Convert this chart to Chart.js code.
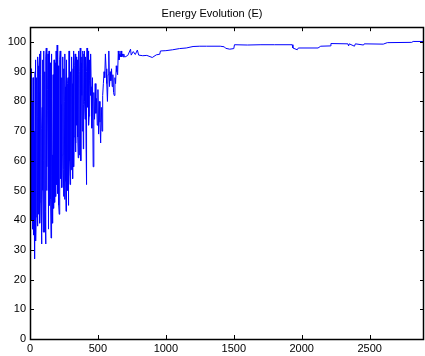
<!DOCTYPE html>
<html>
<head>
<meta charset="utf-8">
<script src="https://cdn.jsdelivr.net/npm/chart.js@4/dist/chart.umd.min.js"></script>
<style>
  html, body { margin: 0; padding: 0; background: #fff; }
  #wrap { width: 425px; height: 356px; }
</style>
</head>
<body>
<div id="wrap"><canvas id="energyChart" width="425" height="356"></canvas></div>
<script>
const chartTitle = "Energy Evolution (E)";

// noisy start: iterations 0..700, every 5
const earlyIters = [];
for (let i = 0; i <= 700; i += 5) earlyIters.push(i);
const earlyEnergy = [
  62, 85, 44, 80, 37, 83, 52, 27, 94, 41,
  88, 38, 92, 55, 96, 46, 89, 32, 78, 50,
  97, 36, 90, 32, 98, 58, 84, 37, 97, 45,
  92, 34, 81, 62, 89, 44, 55, 93, 48, 86,
  99, 49, 87, 42, 94, 60, 79, 51, 91, 57,
  91, 47, 85, 43, 94, 64, 88, 55, 93, 52,
  90, 62, 86, 54, 97, 68, 92, 63, 95, 72,
  93, 61, 89, 76, 98, 60, 95, 70, 91, 79,
  97, 74, 88, 52, 98, 80, 92, 75, 87, 82,
  85, 71, 88, 58, 83, 74, 86, 76, 81, 72,
  84, 69, 80, 73, 66, 78, 70, 82, 86, 90,
  88, 96, 91, 86, 80, 89, 97, 85, 90, 87,
  91, 85, 89, 83, 82, 88, 86, 92, 90, 89,
  97, 94, 96, 95, 97, 95, 96, 95, 96, 95,
  95
];

// in-between iterations 2.5..447.5 (the dense band)
const midIters = [];
for (let i = 2.5; i < 450; i += 5) midIters.push(i);
const midEnergy = [
  48, 91, 40, 76, 88, 35, 70, 90, 33, 58,
  75, 95, 42, 83, 39, 97, 47, 71, 94, 36,
  60, 88, 43, 95, 50, 77, 96, 40, 68, 93,
  47, 96, 55, 39, 78, 94, 46, 70, 97, 52,
  63, 92, 45, 84, 97, 54, 88, 62, 95, 48,
  80, 96, 53, 90, 50, 86, 45, 97, 60, 89,
  57, 95, 70, 91, 58, 86, 96, 66, 84, 94,
  68, 97, 62, 90, 73, 93, 82, 97, 64, 96,
  80, 95, 66, 90, 78, 97, 72, 94, 85, 96
];

// settled part
const lateIters = [
  720, 740, 745, 760, 775, 790, 800, 830, 860, 900, 930, 955, 960,
  1000, 1050, 1100, 1150, 1200, 1250, 1300, 1400, 1430, 1440, 1470, 1500, 1505,
  1600, 1700, 1800, 1930, 1935, 1967, 1975, 2120, 2140, 2210, 2215,
  2340, 2345, 2350, 2388, 2395, 2455, 2460, 2600, 2630, 2810, 2820, 2900
];
const lateEnergy = [
  95.5, 97.6, 95.6, 96.8, 95.8, 97.3, 95.6, 95.4, 95.5, 94.8, 95.7, 95.9, 97.0,
  97.1, 97.4, 97.8, 98.0, 98.5, 98.6, 98.6, 98.6, 98.4, 97.9, 97.6, 97.8, 99.1,
  99.0, 99.1, 99.1, 99.1, 98.0, 97.4, 98.0, 98.0, 98.6, 98.7, 99.5,
  99.4, 98.7, 99.4, 98.6, 99.4, 99.0, 99.4, 99.3, 99.8, 99.9, 100.2, 100.2
];

const xTicks = [0, 500, 1000, 1500, 2000, 2500];
const yTicks = [0, 10, 20, 30, 40, 50, 60, 70, 80, 90, 100];

const points = earlyIters.map((x, i) => ({x: x, y: earlyEnergy[i]}))
  .concat(midIters.map((x, i) => ({x: x, y: midEnergy[i]})))
  .sort((a, b) => a.x - b.x)
  .concat(lateIters.map((x, i) => ({x: x, y: lateEnergy[i]})));

// box and inward ticks, matlab style
const frame = {
  id: 'frame',
  afterDraw(chart) {
    const {ctx, chartArea: a, scales} = chart;
    ctx.save();
    ctx.strokeStyle = '#000';
    ctx.lineWidth = 1;
    ctx.beginPath();
    xTicks.forEach(v => {
      const px = Math.round(scales.x.getPixelForValue(v)) + 0.5;
      ctx.moveTo(px, a.bottom); ctx.lineTo(px, a.bottom - 4);
      ctx.moveTo(px, a.top); ctx.lineTo(px, a.top + 4);
    });
    yTicks.forEach(v => {
      const py = Math.round(scales.y.getPixelForValue(v)) + 0.5;
      ctx.moveTo(a.left, py); ctx.lineTo(a.left + 4, py);
      ctx.moveTo(a.right, py); ctx.lineTo(a.right - 4, py);
    });
    ctx.stroke();
    ctx.lineWidth = 1.5;
    ctx.strokeRect(Math.round(a.left) + 0.5, Math.round(a.top) + 0.5,
      Math.round(a.right - a.left) - 1, Math.round(a.bottom - a.top));
    ctx.restore();
  }
};

const ctx = document.getElementById('energyChart').getContext('2d');
new Chart(ctx, {
  type: 'line',
  data: {
    datasets: [{
      data: points,
      borderColor: '#0000ff',
      borderWidth: 1,
      pointRadius: 0,
      fill: false,
      tension: 0
    }]
  },
  options: {
    responsive: false,
    animation: false,
    layout: { padding: { left: 0, right: 1, top: 0, bottom: 0 } },
    plugins: {
      legend: { display: false },
      tooltip: { enabled: false },
      title: {
        display: true,
        text: chartTitle,
        color: '#000',
        font: { family: 'Liberation Sans, Arial, sans-serif', size: 11, weight: 'normal' },
        padding: { top: 7, bottom: 7 }
      }
    },
    scales: {
      x: {
        type: 'linear',
        min: 0, max: 2900,
        grid: { display: false, drawTicks: false },
        border: { display: false },
        afterBuildTicks: s => { s.ticks = xTicks.map(v => ({value: v})); },
        afterFit: s => { s.height = 17; },
        ticks: {
          color: '#000', padding: 3, maxRotation: 0, autoSkip: false,
          callback: v => String(v),
          font: { family: 'Liberation Sans, Arial, sans-serif', size: 11 }
        }
      },
      y: {
        min: 0, max: 105,
        grid: { display: false, drawTicks: false },
        border: { display: false },
        afterBuildTicks: s => { s.ticks = yTicks.map(v => ({value: v})); },
        afterFit: s => { s.width = 30; },
        ticks: {
          color: '#000', padding: 4,
          callback: v => String(v),
          font: { family: 'Liberation Sans, Arial, sans-serif', size: 11 }
        }
      }
    }
  },
  plugins: [frame]
});
</script>
</body>
</html>
